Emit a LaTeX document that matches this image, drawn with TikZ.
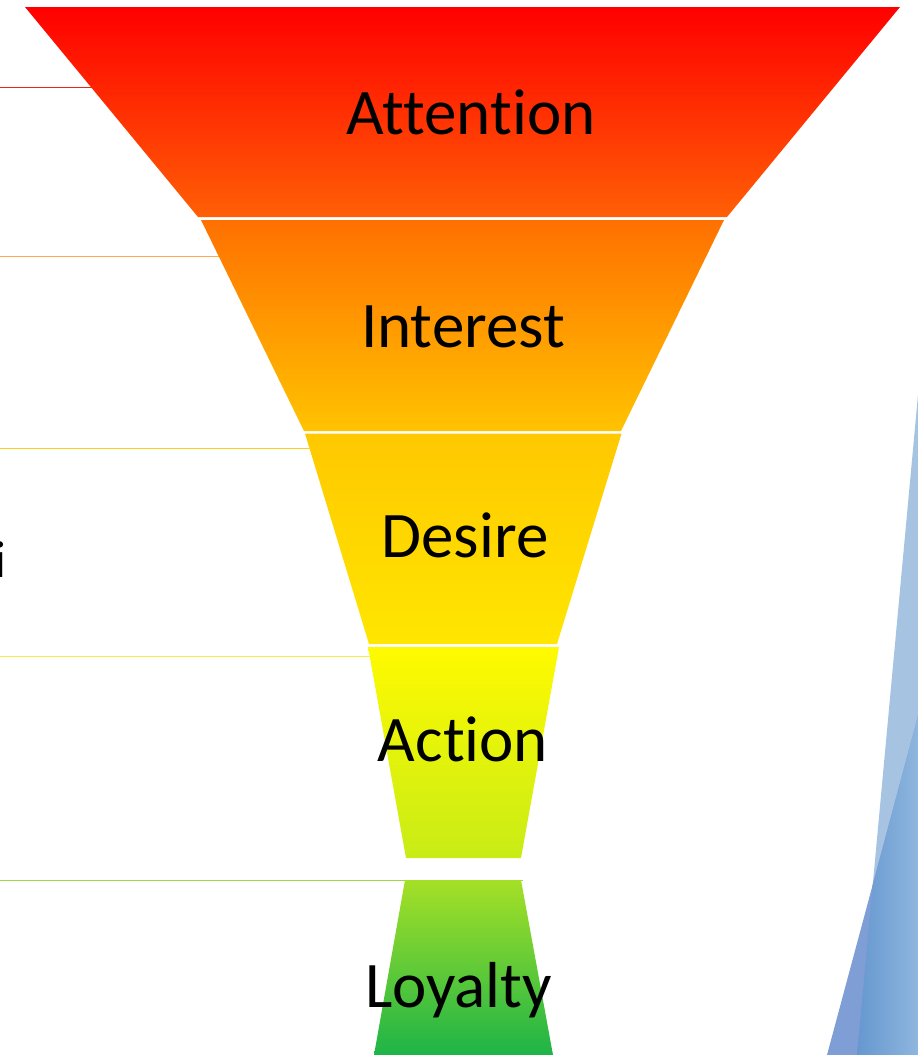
\documentclass[tikz,border=0pt]{standalone}
\usepackage{fontspec}
\setmainfont[Ligatures={NoCommon,NoDiscretionary}]{Carlito}
\begin{document}
\begin{tikzpicture}[x=1pt,y=-1pt,
  lbl/.style={anchor=base,inner sep=0pt,font=\fontsize{65}{70}\selectfont,text=black},
  guide/.style={line width=1pt}]
\useasboundingbox (0,0) rectangle (918,1055);
\begin{scope}
\clip (0,0) rectangle (918,1055);
% guide lines on the left
\draw[guide,color={rgb,255:red,232;green,40;blue,20}] (0,87) coordinate (g1) -- (120,87) coordinate (g1e);
\draw[guide,color={rgb,255:red,255;green,170;blue,80}] (0,256.5) coordinate (g2) -- (230,256.5) coordinate (g2e);
\draw[guide,color={rgb,255:red,255;green,205;blue,40}] (0,448) coordinate (g3) -- (320,448) coordinate (g3e);
\draw[guide,color={rgb,255:red,250;green,235;blue,70}] (0,656.7) coordinate (g4) -- (372,656.7) coordinate (g4e);
\draw[guide,color={rgb,255:red,160;green,215;blue,70}] (0,880) coordinate (g5) -- (523,880) coordinate (g5e);
% funnel segments
\shade[top color={rgb,255:red,255;green,0;blue,0},bottom color={rgb,255:red,255;green,95;blue,5}]
  (25,7) -- (900,7) -- (727,217) -- (198,217) -- cycle;
\shade[top color={rgb,255:red,255;green,112;blue,0},bottom color={rgb,255:red,255;green,195;blue,0}]
  (201,220) -- (724,220) -- (621,431) -- (304,431) -- cycle;
\shade[top color={rgb,255:red,255;green,200;blue,0},bottom color={rgb,255:red,255;green,230;blue,0}]
  (305,433.5) -- (621.5,433.5) -- (557,644) -- (369,644) -- cycle;
\shade[top color={rgb,255:red,255;green,250;blue,0},bottom color={rgb,255:red,200;green,236;blue,22}]
  (368,647) -- (559,647) -- (521,858) -- (406,858) -- cycle;
\shade[top color={rgb,255:red,165;green,224;blue,38},bottom color={rgb,255:red,30;green,180;blue,72}]
  (405,880) -- (521,880) -- (553,1055) -- (374,1055) -- cycle;
% blue facets on the right
\fill[color={rgb,255:red,166;green,196;blue,226}] (918,395) -- (918,1055) -- (857,1055) -- cycle;
\fill[color={rgb,255:red,128;green,158;blue,214}] (918,716) -- (918,1055) -- (827,1055) -- cycle;
\begin{scope}
\clip (918,395) -- (918,1055) -- (857,1055) -- cycle;
\shade[left color={rgb,255:red,82;green,136;blue,200},right color={rgb,255:red,142;green,182;blue,222}]
  (918,716) -- (918,1055) -- (827,1055) -- cycle;
\end{scope}
% cut-off letter at the left edge
\node[anchor=base west,inner sep=0pt,font=\fontsize{52}{60}\selectfont] (cut) at (-5.5,577) {i};
\end{scope}
% labels
\node[lbl] (att) at (471,134) {Attention};
\node[lbl] (int) at (463,347) {Interest};
\node[lbl] (des) at (465,557) {Desire};
\node[lbl] (act) at (463,761) {Action};
\node[lbl] (loy) at (458.5,1007) {Loyalty};
\end{tikzpicture}
\end{document}
